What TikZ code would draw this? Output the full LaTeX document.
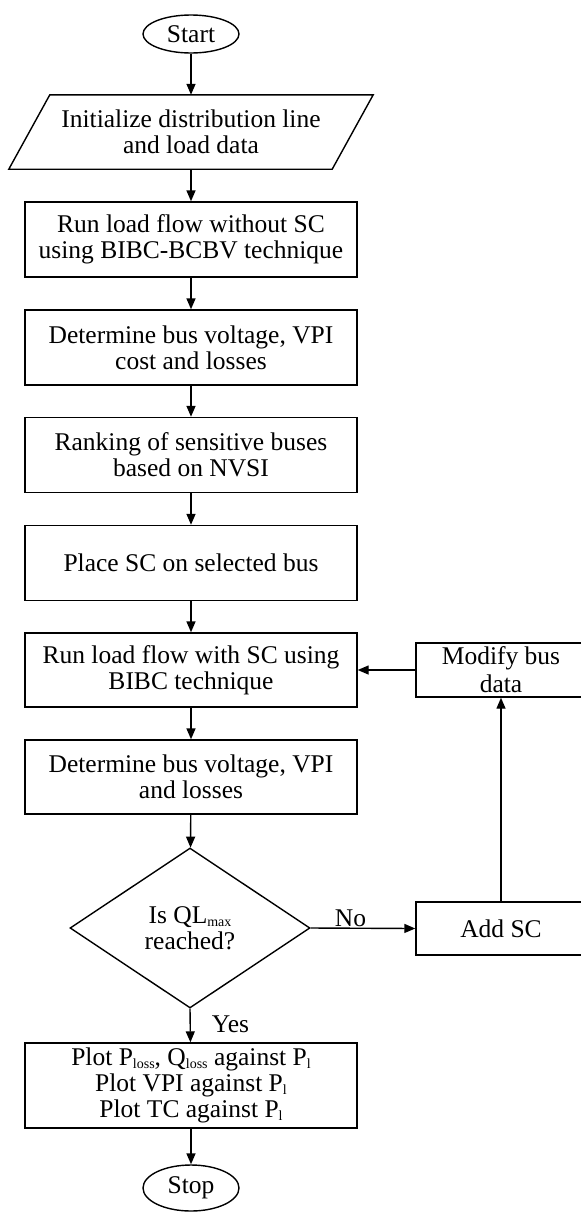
\documentclass[tikz,border=0pt]{standalone}
\usepackage{fontspec}
\setmainfont{Liberation Serif}
\usetikzlibrary{shapes.geometric,arrows.meta}
\newcommand\sbs[1]{\raisebox{-3pt}{\fontsize{14}{14}\selectfont #1}}
\begin{document}
\begin{tikzpicture}[x=1pt,y=-1pt,
  every node/.style={font=\fontsize{25.5}{26}\selectfont, inner sep=0pt},
  line/.style={line width=1.4pt},
  arr/.style={line width=1.4pt,-{Triangle[length=11pt,width=9pt]}},
  procbox/.style={draw, line width=1.4pt, minimum width=332pt, minimum height=75pt, align=center},
  sidebox/.style={draw, line width=1.4pt, minimum width=170pt, minimum height=54pt, align=center},
  term/.style={draw, ellipse, line width=1.4pt, minimum width=96pt},
  decision/.style={draw, diamond, aspect=1.5, line width=1.4pt, minimum width=240pt, minimum height=160pt, align=center},
  lbl/.style={font=\fontsize{25.5}{26}\selectfont}
]
\useasboundingbox (0,0) rectangle (581,1213);
\clip (0,0) rectangle (581,1213);

\node[term, minimum height=38pt] (start) at (191,34) {Start};
\node[minimum width=323pt, minimum height=74pt, align=center] (init) at (191,132) {Initialize distribution line\\and load data};
\draw[line] ([xshift=-20.5pt]init.south west) -- ([xshift=-20.5pt]init.south east)
  -- ([xshift=20.5pt]init.north east) -- ([xshift=20.5pt]init.north west) -- cycle;

\node[procbox] (b1) at (191,239.5) {Run load flow without SC\\using BIBC-BCBV technique};
\node[procbox] (b2) at (191,347.5) {Determine bus voltage, VPI\\cost and losses};
\node[procbox] (b3) at (191,455) {Ranking of sensitive buses\\based on NVSI};
\node[procbox] (b4) at (191,563) {Place SC on selected bus};
\node[procbox, minimum height=74pt] (b5) at (191,670) {Run load flow with SC using\\BIBC technique};
\node[procbox, minimum height=74pt] (b6) at (191,777) {Determine bus voltage, VPI\\and losses};
\node[decision] (dec) at (190,928) {Is QL\sbs{max}\\reached?};
\node[procbox, minimum height=85pt] (plot) at (191,1085.5) {Plot P\sbs{loss}, Q\sbs{loss} against P\sbs{l}\\Plot VPI against P\sbs{l}\\Plot TC against P\sbs{l}};
\node[term, minimum height=46pt] (stop) at (191,1188) {Stop};

\node[sidebox, font=\fontsize{25.5}{28}\selectfont] (mod) at (501,670) {Modify bus\\data};
\node[sidebox, minimum height=53pt] (add) at (501,928.5) {Add SC};

\draw[arr] (start) -- (init.north);
\draw[arr] (init.south) -- (b1);
\draw[arr] (b1) -- (b2);
\draw[arr] (b2) -- (b3);
\draw[arr] (b3) -- (b4);
\draw[arr] (b4) -- (b5);
\draw[arr] (b5) -- (b6);
\draw[arr] (b6) -- (dec);
\draw[arr] (dec.east) -- (add.west) node[lbl, pos=0.38, above=1pt] (no) {No};
\draw[arr] (add) -- (mod);
\draw[arr] (mod) -- (b5);
\draw[arr] (dec.south) -- (plot) node[lbl, pos=0.45, right=21pt] (yes) {Yes};
\draw[arr] (plot) -- (stop);
\end{tikzpicture}
\end{document}
